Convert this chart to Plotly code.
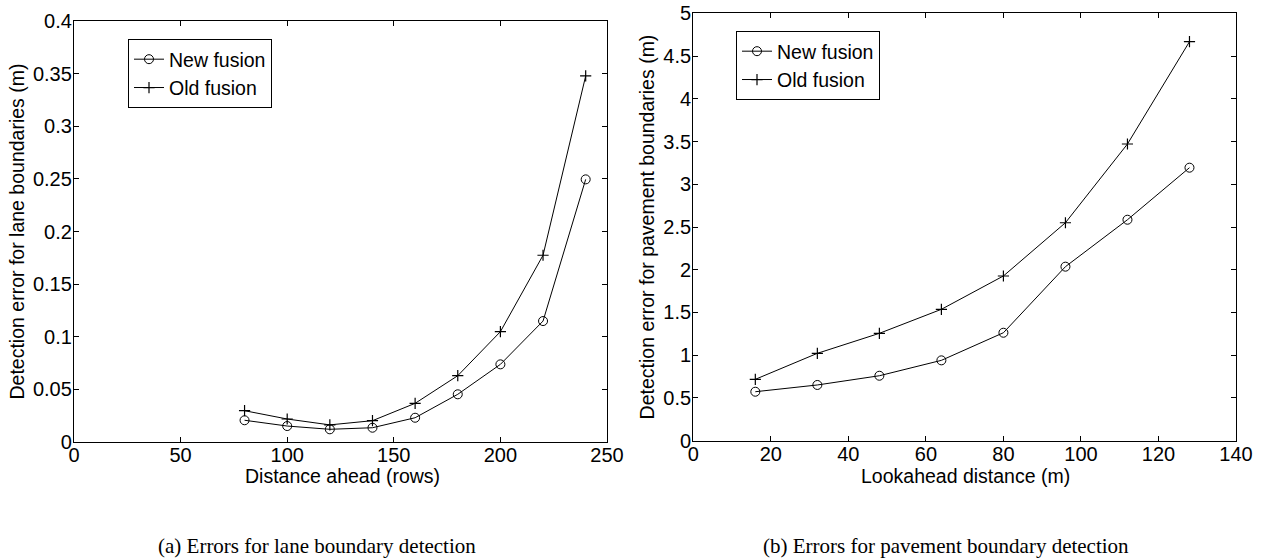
import plotly.graph_objects as go

# Data (a) lane boundary
lane_x = [80, 100, 120, 140, 160, 180, 200, 220, 240]
lane_new = [0.0204, 0.0149, 0.0118, 0.0133, 0.0228, 0.0451, 0.0736, 0.1148, 0.2496]
lane_old = [0.0295, 0.0216, 0.0160, 0.0200, 0.0365, 0.0628, 0.1047, 0.1774, 0.3480]

# Data (b) pavement boundary
pave_x = [16, 32, 48, 64, 80, 96, 112, 128]
pave_new = [0.573, 0.652, 0.760, 0.940, 1.263, 2.036, 2.585, 3.194]
pave_old = [0.718, 1.022, 1.256, 1.537, 1.927, 2.550, 3.471, 4.668]

series_names = ["New fusion", "Old fusion"]
lane_ticks_x = [0, 50, 100, 150, 200, 250]
lane_ticks_y = [0, 0.05, 0.1, 0.15, 0.2, 0.25, 0.3, 0.35, 0.4]
lane_ticktext_y = ["0", "0.05", "0.1", "0.15", "0.2", "0.25", "0.3", "0.35", "0.4"]
pave_ticks_x = [0, 20, 40, 60, 80, 100, 120, 140]
pave_ticks_y = [0, 0.5, 1, 1.5, 2, 2.5, 3, 3.5, 4, 4.5, 5]
pave_ticktext_y = ["0", "0.5", "1", "1.5", "2", "2.5", "3", "3.5", "4", "4.5", "5"]

W, H = 1264, 559
FONT = "Liberation Sans, Arial, sans-serif"
SERIF = "Liberation Serif, Times New Roman, serif"
TICK_SIZE = 20
TITLE_SIZE = 19.5

fig = go.Figure()

line_style = dict(color="black", width=1)
new_marker = dict(symbol="circle-open", size=9, color="black", line=dict(width=1))
old_marker = dict(symbol="cross-thin-open", size=8, color="black", line=dict(width=1.2))

fig.add_trace(go.Scatter(x=lane_x, y=lane_new, mode="lines+markers", name=series_names[0],
                         line=line_style, marker=new_marker, xaxis="x", yaxis="y", legend="legend"))
fig.add_trace(go.Scatter(x=lane_x, y=lane_old, mode="lines+markers", name=series_names[1],
                         line=line_style, marker=old_marker, xaxis="x", yaxis="y", legend="legend"))
fig.add_trace(go.Scatter(x=pave_x, y=pave_new, mode="lines+markers", name=series_names[0],
                         line=line_style, marker=new_marker, xaxis="x2", yaxis="y2", legend="legend2"))
fig.add_trace(go.Scatter(x=pave_x, y=pave_old, mode="lines+markers", name=series_names[1],
                         line=line_style, marker=old_marker, xaxis="x2", yaxis="y2", legend="legend2"))

axis_common = dict(showline=True, linecolor="black", linewidth=1.3, mirror="ticks",
                   ticks="inside", ticklen=5, tickwidth=1, tickcolor="black",
                   showgrid=False, zeroline=False, automargin=False,
                   ticklabeloverflow="allow",
                   tickfont=dict(family=FONT, size=TICK_SIZE, color="black"))


def px(x):
    return x / W


def py(y):
    return 1 - y / H


def dom_x(a, b):
    return [px(a), px(b)]


def dom_y(top, bottom):
    return [py(bottom), py(top)]


legend_common = dict(xanchor="left", yanchor="top", bgcolor="white", bordercolor="black",
                     borderwidth=1, font=dict(family=FONT, size=TITLE_SIZE, color="black"),
                     itemwidth=30, tracegroupgap=0)

fig.update_layout(
    width=W, height=H,
    margin=dict(l=0, r=0, t=0, b=0, autoexpand=False),
    paper_bgcolor="white", plot_bgcolor="white",
    font=dict(family=FONT, color="black"),
    hovermode=False,
    xaxis=dict(domain=dom_x(74, 607), range=[0, 250], tickvals=lane_ticks_x, anchor="y",
               ticklabelstandoff=-5, **axis_common),
    yaxis=dict(domain=dom_y(21.3, 441.7), range=[0, 0.4], tickvals=lane_ticks_y,
               ticktext=lane_ticktext_y, anchor="x", ticklabelstandoff=-3,
               title=dict(text="Detection error for lane boundaries (m)", font=dict(family=FONT, size=TITLE_SIZE), standoff=3),
               **axis_common),
    xaxis2=dict(domain=dom_x(693.3, 1236), range=[0, 140], tickvals=pave_ticks_x, anchor="y2",
                ticklabelstandoff=-5, **axis_common),
    yaxis2=dict(domain=dom_y(13.3, 440.7), range=[0, 5], tickvals=pave_ticks_y,
                ticktext=pave_ticktext_y, anchor="x2", ticklabelstandoff=-3,
                title=dict(text="Detection error for pavement boundaries (m)", font=dict(family=FONT, size=TITLE_SIZE), standoff=3),
                **axis_common),
    legend=dict(x=px(128), y=py(39), **legend_common),
    legend2=dict(x=px(736), y=py(31), **legend_common),
    showlegend=True,
)

# x-axis titles (placed directly under the tick labels, as in the reference)
fig.add_annotation(text="Distance ahead (rows)", x=px(342), y=py(476),
                   xref="paper", yref="paper", showarrow=False, xanchor="center", yanchor="middle",
                   font=dict(family=FONT, size=TITLE_SIZE, color="black"))
fig.add_annotation(text="Lookahead distance (m)", x=px(965), y=py(476),
                   xref="paper", yref="paper", showarrow=False, xanchor="center", yanchor="middle",
                   font=dict(family=FONT, size=TITLE_SIZE, color="black"))

fig.add_annotation(text="(a) Errors for lane boundary detection", x=px(316.7), y=py(546),
                   xref="paper", yref="paper", showarrow=False, xanchor="center", yanchor="middle",
                   font=dict(family=SERIF, size=21, color="black"))
fig.add_annotation(text="(b) Errors for pavement boundary detection", x=px(946), y=py(546),
                   xref="paper", yref="paper", showarrow=False, xanchor="center", yanchor="middle",
                   font=dict(family=SERIF, size=21, color="black"))

# remove the browser's default 8px body margin so the figure fills the window exactly
fig.write_html("out.html", config={"displayModeBar": False},
               post_script="document.body.style.margin='0';document.body.style.overflow='hidden';")
